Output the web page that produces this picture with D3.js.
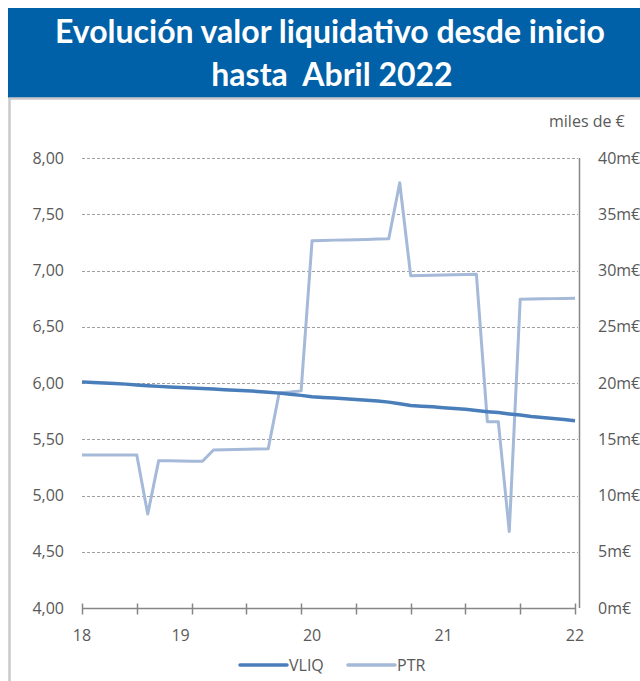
<!DOCTYPE html>
<html>
<head>
  <meta charset="utf-8">
  <title>Evolución valor liquidativo</title>
  <script src="https://d3js.org/d3.v7.min.js"></script>
  <style>
    body { margin: 0; background: #fff; }
    svg text { font-family: "Open Sans", Lato, sans-serif; }
  </style>
</head>
<body>
<svg id="chart" width="640" height="681"></svg>

<script>
// monthly points, index 0..45
var months = d3.range(46);

var vliq = [6.01, 6.005, 6.0, 5.995, 5.99, 5.982, 5.976, 5.97, 5.965, 5.96,
            5.956, 5.951, 5.946, 5.941, 5.936, 5.931, 5.925, 5.918, 5.91, 5.90,
            5.89, 5.878, 5.872, 5.866, 5.86, 5.853, 5.846, 5.84, 5.83, 5.815,
            5.80, 5.794, 5.788, 5.781, 5.774, 5.766, 5.755, 5.745, 5.737, 5.725,
            5.715, 5.703, 5.694, 5.685, 5.675, 5.665];

// patrimonio, miles de euros
var ptr = [13.6, 13.6, 13.6, 13.6, 13.6, 13.6, 8.35, 13.1, 13.08, 13.06,
           13.05, 13.05, 14.04, 14.07, 14.09, 14.11, 14.13, 14.16, 19.14, 19.2,
           19.3, 32.65, 32.67, 32.7, 32.72, 32.74, 32.76, 32.8, 32.82, 37.8,
           29.54, 29.56, 29.58, 29.6, 29.62, 29.64, 29.66, 16.56, 16.56, 6.8,
           27.44, 27.46, 27.48, 27.5, 27.51, 27.53];

var xTickLabels = ["18", "19", "20", "21", "22"];
var xLabelMonths = [0, 9, 21, 33, 45];
var xTickMonths = d3.range(0, 46, 5);

var leftTicks = [4, 4.5, 5, 5.5, 6, 6.5, 7, 7.5, 8];
var rightTicks = [0, 5, 10, 15, 20, 25, 30, 35, 40];

var svg = d3.select("#chart");

// header band
svg.append("rect").attr("x", 8).attr("y", 8).attr("width", 632).attr("height", 90)
  .attr("fill", "#0060A8");
var title = svg.append("text").attr("text-anchor", "middle")
  .attr("fill", "#fff").style("font-family", "Lato, sans-serif")
  .style("font-weight", "bold").style("font-size", "32px").style("white-space", "pre");
title.append("tspan").attr("x", 330).attr("y", 43).text("Evolución valor liquidativo desde inicio");
title.append("tspan").attr("x", 332).attr("y", 86).text("hasta  Abril 2022");

// chart box border
svg.append("path").attr("d", "M9.5,681 V98.5 H640")
  .attr("fill", "none").attr("stroke", "#c9c9c9").attr("stroke-width", 2.5);

var x = d3.scaleLinear().domain([0, 45]).range([82, 575]);
var yL = d3.scaleLinear().domain([4, 8]).range([608, 158]);
var yR = d3.scaleLinear().domain([0, 40]).range([608, 158]);

// gridlines
svg.append("g").selectAll("line").data(leftTicks.slice(1)).enter().append("line")
  .attr("x1", 82).attr("x2", 578)
  .attr("y1", function(d) { return Math.round(yL(d)) + 0.5; })
  .attr("y2", function(d) { return Math.round(yL(d)) + 0.5; })
  .attr("stroke", "#a0a0a0").attr("stroke-width", 1).attr("stroke-dasharray", "3,2");

// left labels
svg.append("g").selectAll("text").data(leftTicks).enter().append("text")
  .attr("x", 64).attr("y", function(d) { return yL(d) + 5.5; })
  .attr("text-anchor", "end").attr("fill", "#595959").style("font-size", "16px")
  .text(function(d) { return d3.format(".2f")(d).replace(".", ","); });

// right axis
svg.append("line").attr("x1", 579.5).attr("x2", 579.5).attr("y1", 158).attr("y2", 608)
  .attr("stroke", "#868686").attr("stroke-width", 1.5);
svg.append("g").selectAll("text").data(rightTicks).enter().append("text")
  .attr("x", 598).attr("y", function(d) { return yR(d) + 5.5; })
  .attr("fill", "#595959").style("font-size", "16px")
  .text(function(d) { return d + "m€"; });
svg.append("text").attr("x", 549).attr("y", 127).attr("fill", "#595959")
  .style("font-size", "16px").text("miles de €");

// x axis
var xg = svg.append("g").attr("transform", "translate(0,608.5)");
xg.append("line").attr("x1", x(0)).attr("x2", x(45))
  .attr("stroke", "#868686").attr("stroke-width", 1.5);
xg.selectAll("line.tick").data(xTickMonths).enter().append("line").attr("class", "tick")
  .attr("x1", function(d) { return Math.round(x(d)) + 0.5; })
  .attr("x2", function(d) { return Math.round(x(d)) + 0.5; })
  .attr("y1", -5).attr("y2", 6)
  .attr("stroke", "#868686").attr("stroke-width", 1.5);
xg.selectAll("text").data(xLabelMonths).enter().append("text")
  .attr("x", function(d) { return x(d); }).attr("y", 32)
  .attr("text-anchor", "middle").attr("fill", "#595959").style("font-size", "16px")
  .text(function(d, i) { return xTickLabels[i]; });

// lines
var ptrLine = d3.line().x(function(d, i) { return x(months[i]); }).y(function(d) { return yR(d); });
var vliqLine = d3.line().x(function(d, i) { return x(months[i]); }).y(function(d) { return yL(d); });

svg.append("path").datum(ptr).attr("d", ptrLine)
  .attr("fill", "none").attr("stroke", "#A5B9D9").attr("stroke-width", 3)
  .attr("stroke-linejoin", "round");
svg.append("path").datum(vliq).attr("d", vliqLine)
  .attr("fill", "none").attr("stroke", "#4A7EBB").attr("stroke-width", 3.5)
  .attr("stroke-linejoin", "round");

// legend
var legend = [{name: "VLIQ", color: "#4A7EBB", x: 240}, {name: "PTR", color: "#A5B9D9", x: 348}];
var lg = svg.append("g").selectAll("g").data(legend).enter().append("g");
lg.append("line").attr("x1", function(d) { return d.x; }).attr("x2", function(d) { return d.x + 47; })
  .attr("y1", 665).attr("y2", 665).attr("stroke", function(d) { return d.color; })
  .attr("stroke-width", 3.5).attr("stroke-linecap", "round");
lg.append("text").attr("x", function(d) { return d.x + 49; }).attr("y", 671)
  .attr("fill", "#595959").style("font-size", "16px").text(function(d) { return d.name; });
</script>
</body>
</html>
